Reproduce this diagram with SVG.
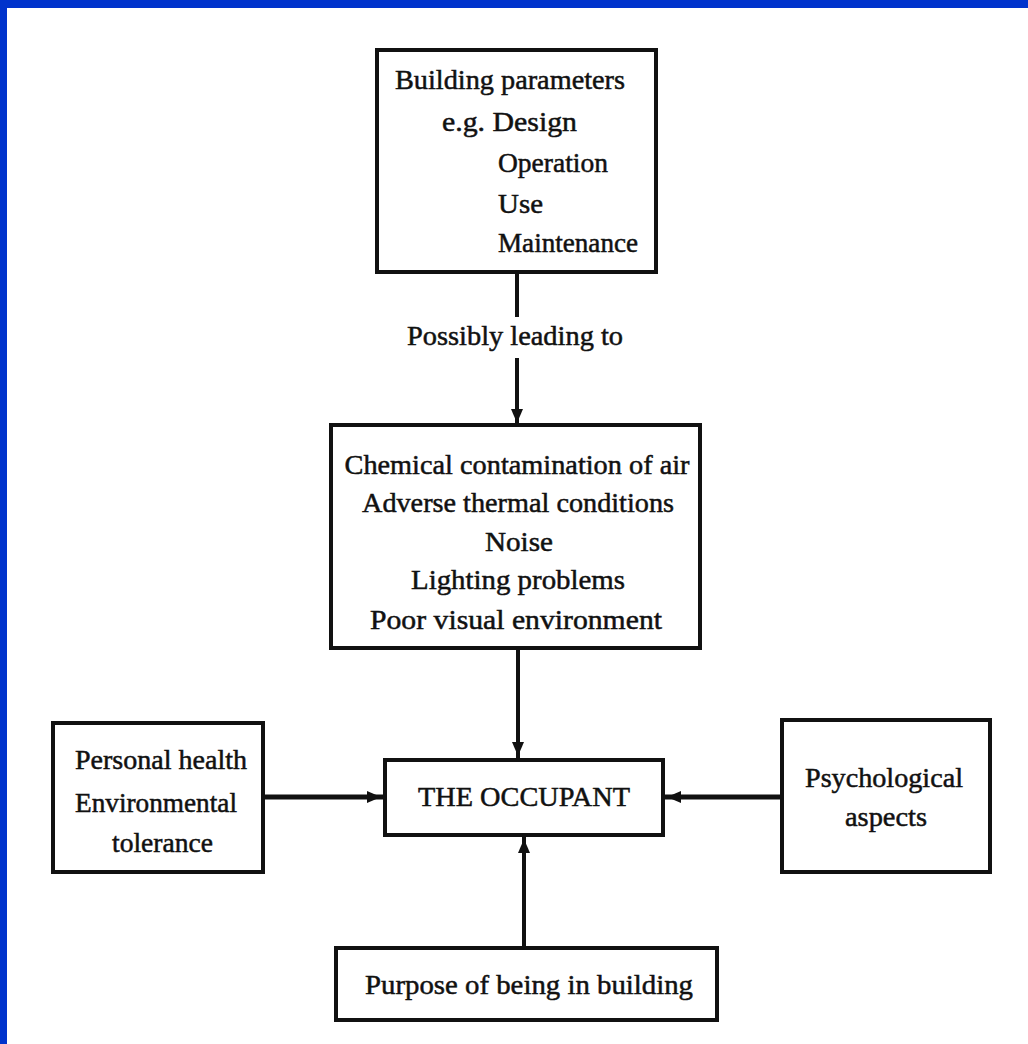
<svg xmlns="http://www.w3.org/2000/svg" width="1028" height="1044" viewBox="0 0 1028 1044">
<defs>
<style>
.box{fill:#fff;stroke:#111;stroke-width:4}
.t{font-family:"Liberation Serif","Times New Roman",serif;font-size:28px;fill:#111;stroke:#111;stroke-width:0.5}
.c{text-anchor:middle}
.ln{stroke:#111;stroke-width:4;fill:none}
.hz{stroke-width:5}
</style>
<marker id="ah" markerUnits="userSpaceOnUse" viewBox="0 0 22 12" markerWidth="22" markerHeight="12" refX="20" refY="6" orient="auto">
<path d="M0,0 L14,6 L0,12 z" fill="#111"/>
</marker>
</defs>
<rect x="0" y="0" width="1028" height="1044" fill="#fff"/>
<rect x="0" y="0" width="1028" height="8" fill="#0033cc"/>
<rect x="0" y="0" width="7" height="1044" fill="#0033cc"/>

<g id="connectors">
<line class="ln" x1="517" y1="273" x2="517" y2="317"/>
<text class="t c" x="515" y="345" textLength="216" lengthAdjust="spacingAndGlyphs">Possibly leading to</text>
<line class="ln" x1="517" y1="358" x2="517" y2="429" marker-end="url(#ah)"/>
<line class="ln" x1="518" y1="648" x2="518" y2="762" marker-end="url(#ah)"/>
<line class="ln hz" x1="263" y1="797" x2="387" y2="797" marker-end="url(#ah)"/>
<line class="ln hz" x1="782" y1="797" x2="661" y2="797" marker-end="url(#ah)"/>
<line class="ln" x1="524" y1="948" x2="524" y2="833" marker-end="url(#ah)"/>
</g>

<g id="building">
<rect class="box" x="377" y="50" width="279" height="222"/>
<text class="t" x="395" y="89" textLength="230" lengthAdjust="spacingAndGlyphs">Building parameters</text>
<text class="t" x="442" y="131" textLength="135" lengthAdjust="spacingAndGlyphs">e.g. Design</text>
<text class="t" x="498" y="172" textLength="110" lengthAdjust="spacingAndGlyphs">Operation</text>
<text class="t" x="498" y="213" textLength="45" lengthAdjust="spacingAndGlyphs">Use</text>
<text class="t" x="498" y="252" textLength="140" lengthAdjust="spacingAndGlyphs">Maintenance</text>
</g>

<g id="conditions">
<rect class="box" x="331" y="425" width="369" height="223"/>
<text class="t c" x="517" y="474" textLength="345" lengthAdjust="spacingAndGlyphs">Chemical contamination of air</text>
<text class="t c" x="518" y="512" textLength="312" lengthAdjust="spacingAndGlyphs">Adverse thermal conditions</text>
<text class="t c" x="519" y="551" textLength="68" lengthAdjust="spacingAndGlyphs">Noise</text>
<text class="t c" x="518" y="589" textLength="214" lengthAdjust="spacingAndGlyphs">Lighting problems</text>
<text class="t c" x="516" y="629" textLength="292" lengthAdjust="spacingAndGlyphs">Poor visual environment</text>
</g>

<g id="occupant">
<rect class="box" x="385" y="760" width="278" height="75"/>
<text class="t c" x="524" y="806" textLength="212" lengthAdjust="spacingAndGlyphs">THE OCCUPANT</text>
</g>

<g id="personal">
<rect class="box" x="53" y="723" width="210" height="149"/>
<text class="t" x="75" y="769" textLength="172" lengthAdjust="spacingAndGlyphs">Personal health</text>
<text class="t" x="75" y="812" textLength="162" lengthAdjust="spacingAndGlyphs">Environmental</text>
<text class="t" x="112" y="852" textLength="101" lengthAdjust="spacingAndGlyphs">tolerance</text>
</g>

<g id="psychological">
<rect class="box" x="782" y="720" width="208" height="152"/>
<text class="t c" x="884" y="787" textLength="158" lengthAdjust="spacingAndGlyphs">Psychological</text>
<text class="t c" x="886" y="826" textLength="82" lengthAdjust="spacingAndGlyphs">aspects</text>
</g>

<g id="purpose">
<rect class="box" x="336" y="948" width="381" height="72"/>
<text class="t" x="365" y="994" textLength="328" lengthAdjust="spacingAndGlyphs">Purpose of being in building</text>
</g>
</svg>
